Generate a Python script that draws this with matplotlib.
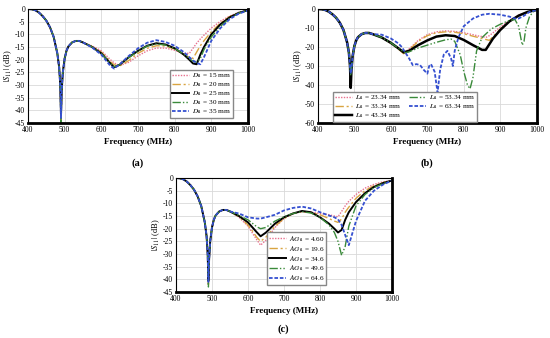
import matplotlib
matplotlib.use("Agg")
import matplotlib.pyplot as plt

plt.rcParams["font.family"] = ["Liberation Serif", "DejaVu Serif"]
plt.rcParams["mathtext.fontset"] = "stix"
plt.rcParams["axes.unicode_minus"] = False

# shared frequency grids (MHz)
f_low = [400, 410, 420, 430, 440, 450, 460, 470, 480, 485, 488, 490, 492, 495,
         500, 505, 510, 520, 530, 540, 550]
f_mid = [575, 600, 625, 635, 650, 675, 700, 725, 750, 775, 800, 825, 840, 850,
         860, 870, 880, 900, 925, 950, 975, 1000]
f_all = f_low + f_mid

# common left part (before the 490 MHz dip / after it)
low_pre = [0, -0.1, -0.5, -1.4, -2.8, -4.6, -7.2, -11, -17.5, -23, -30]
low_post = [-32, -25, -19.5, -16.5, -14.8, -13.2, -12.6, -12.6, -13.2]

# ---- (a) D_fl sweep
a_labels = ["15 mm", "20 mm", "25 mm", "30 mm", "35 mm"]
a_dip = [-43, -45, -42, -45, -43]
a_15 = [-14.6, -16.5, -20, -21.3, -22.3, -21, -18.5, -16.5, -15.4, -15.4, -16.3,
        -17.5, -17.5, -15.5, -13.5, -11.8, -10.3, -7.5, -4.8, -2.8, -1.3, -0.5]
a_20 = [-14.8, -17, -20.8, -22, -22.5, -20.3, -17.5, -15.5, -14.5, -14.6, -15.8,
        -18, -19, -19.5, -17, -14.5, -12.5, -9, -5.5, -3, -1.4, -0.5]
a_25 = [-15, -17.5, -21.5, -23, -22, -19, -16.5, -14.5, -13.5, -14, -15.5,
        -18, -20, -21.5, -21.8, -18, -15, -10, -6, -3.3, -1.5, -0.5]
a_30 = [-15, -17.6, -21.5, -22.8, -22, -19.2, -16.6, -14.6, -13.8, -14.2, -15.6,
        -17.8, -19.6, -20.6, -21, -19.5, -16, -11, -6.8, -3.6, -1.6, -0.5]
a_35 = [-15.2, -18, -22.5, -23.5, -21.8, -18.5, -15.5, -13.3, -12.3, -13, -14.5,
        -17, -19, -20.3, -21.3, -21.8, -19, -12.5, -7.5, -4, -1.8, -0.6]
a_series = [a_15, a_20, a_25, a_30, a_35]

# ---- (b) L_fl sweep
b_labels = ["23.34 mm", "33.34 mm", "43.34 mm", "53.34 mm", "63.34 mm"]
b_dip = [-30, -33, -41.5, -35, -34]
b_23 = [-15, -18, -21.5, -23.2, -21, -16.5, -13.5, -12, -11.5, -11.8, -12.5,
        -13.5, -14.2, -14.5, -15, -14, -12.5, -9.5, -6, -3.3, -1.5, -0.5]
b_33 = [-15, -18, -21.8, -23.5, -21.5, -17, -14, -12.5, -12, -12.2, -13,
        -14.3, -15, -15.5, -16, -16.5, -14.5, -10.5, -6.5, -3.5, -1.6, -0.5]
b_43 = [-15, -17.8, -21.3, -22.8, -22, -19, -16.5, -14.5, -13.8, -14.2, -16.3,
        -19, -20.5, -21.5, -21.5, -18.5, -15.5, -11, -6.5, -3.5, -1.5, -0.5]
f_b53 = f_low + [575, 600, 625, 640, 650, 675, 700, 725, 750, 765, 775, 790,
                 800, 810, 817, 825, 835, 850, 875, 900, 925, 940, 950, 960,
                 965, 970, 980, 990, 1000]
b_53 = [-15, -17.8, -21.3, -23, -22.5, -20.5, -19, -17.5, -16.2, -15.8, -17,
        -24, -33, -40, -42, -36, -22, -15, -10.5, -8, -6, -5.5, -9, -19,
        -17, -10, -4, -1.5, -0.5]
f_b63 = f_low + [575, 600, 620, 630, 640, 650, 660, 670, 680, 690, 700, 705,
                 710, 720, 728, 735, 745, 755, 765, 770, 775, 785, 800, 825,
                 850, 870, 900, 925, 940, 950, 965, 980, 1000]
b_63 = [-13.5, -15.5, -18, -20, -23, -26, -29.5, -29, -29.5, -32, -34, -30,
        -29, -33, -44, -32, -24, -22, -26, -30, -22, -15, -9, -5, -3, -2.5,
        -3, -4, -5, -5, -3.5, -1.5, -0.5]

# ---- (c) AG_fl sweep
c_labels = ["4.60", "19.6", "34.6", "49.6", "64.6"]
c_dip = [-42, -42, -40.5, -43, -41]
c_460 = [-15.5, -19, -24.5, -26.5, -24.5, -19.5, -16, -14, -13.3, -13.5, -14,
         -14.5, -15, -15.3, -13.2, -11, -9.2, -6.5, -4, -2.5, -1.5, -1]
c_196 = [-15.3, -18.5, -23.5, -25, -23.3, -19, -16, -14, -13.3, -13.6, -14.5,
         -16, -17, -17.5, -16.2, -13.5, -11.5, -8, -5, -3, -1.8, -1]
c_346 = [-15, -17.5, -21.5, -23, -21.5, -18, -15.5, -14, -13, -13.5, -15.5,
         -18, -20, -21.5, -20.5, -16.5, -13.5, -9.5, -6, -3.5, -2, -1]
c_496 = [-14.8, -16.5, -19.3, -20, -19.5, -17, -15.3, -14, -13.3, -13.8, -15.5,
         -18.5, -21.5, -25, -30.5, -27, -19, -11, -6.5, -3.8, -2.2, -1]
c_646 = [-14, -15.5, -16, -16, -15.5, -14.5, -12.8, -11.8, -11.3, -12, -13.5,
         -14.8, -15.5, -16.3, -18.5, -22.5, -26.5, -17, -9, -5, -2.6, -1]
c_series = [c_460, c_196, c_346, c_496, c_646]

colors = ["#e8708e", "#d9a441", "black", "#3a8a3a", "#3550d0"]
styles = [(0, (1, 1)), (0, (6, 2, 1.5, 2)), "-",
          (0, (6, 1.5, 1, 1.5, 1, 1.5)), (0, (2, 1))]
widths = [1.0, 1.0, 1.4, 1.0, 1.3]

legend_kw = dict(fontsize=5.2, frameon=True, fancybox=False, edgecolor="#888888",
                 framealpha=1, handlelength=2.4, labelspacing=0.0,
                 borderpad=0.25, handletextpad=0.4, borderaxespad=0)


def style_axes(ax, ymin, ystep):
    ax.set_xlim(400, 1000)
    ax.set_ylim(ymin, 0)
    ax.set_xticks(range(400, 1001, 100))
    ax.set_yticks(range(ymin, 1, ystep))
    ax.grid(color="#d9d9d9", lw=0.6)
    ax.set_axisbelow(True)
    ax.tick_params(labelsize=5.5, length=0, pad=2)
    for side in ["top", "left"]:
        ax.spines[side].set_linewidth(0.8)
    for side in ["right", "bottom"]:
        ax.spines[side].set_linewidth(2.0)
    ax.set_xlabel("Frequency (MHz)", fontsize=6.5, fontweight="bold", labelpad=3)
    ax.set_ylabel("$|S_{11}|$ (dB)", fontsize=6, labelpad=1)


def full(dip, mid):
    return low_pre + [dip] + low_post + mid


fig = plt.figure(figsize=(5.5, 3.38), dpi=100)

# (a)
ax_a = fig.add_axes([0.0509, 0.636, 0.400, 0.3373])
for i in range(5):
    ax_a.plot(f_all, full(a_dip[i], a_series[i]), color=colors[i],
              ls=styles[i], lw=widths[i],
              label=r"$D_{\mathrm{fl}}$ = " + a_labels[i])
style_axes(ax_a, -45, 5)
ax_a.legend(loc="lower right", bbox_to_anchor=(0.93, 0.045), **legend_kw)

# (b)
ax_b = fig.add_axes([0.578, 0.636, 0.398, 0.3373])
b_freqs = [f_all, f_all, f_all, f_b53, f_b63]
b_vals = [full(b_dip[0], b_23), full(b_dip[1], b_33), full(b_dip[2], b_43),
          full(b_dip[3], b_53), full(b_dip[4], b_63)]
for i in range(5):
    ax_b.plot(b_freqs[i], b_vals[i], color=colors[i], ls=styles[i],
              lw=widths[i] + (0.4 if i == 2 else 0),
              label=r"$L_{\mathrm{fl}}$ = " + b_labels[i])
style_axes(ax_b, -60, 10)
ax_b.legend(loc="lower left", bbox_to_anchor=(0.068, 0.01), ncol=2,
            columnspacing=1.0, **legend_kw)

# (c)
ax_c = fig.add_axes([0.32, 0.136, 0.3927, 0.3373])
for i in range(5):
    ax_c.plot(f_all, full(c_dip[i], c_series[i]), color=colors[i],
              ls=styles[i], lw=widths[i],
              label=r"$AG_{\mathrm{fl}}$ = " + c_labels[i])
style_axes(ax_c, -45, 5)
ax_c.legend(loc="lower left", bbox_to_anchor=(0.42, 0.06), **legend_kw)

fig.text(0.251, 1 - 163 / 338, "(a)", ha="center", va="center",
         fontsize=7.5, fontweight="bold")
fig.text(0.777, 1 - 163 / 338, "(b)", ha="center", va="center",
         fontsize=7.5, fontweight="bold")
fig.text(0.516, 1 - 329 / 338, "(c)", ha="center", va="center",
         fontsize=7.5, fontweight="bold")

fig.savefig("out.png", dpi=100)
